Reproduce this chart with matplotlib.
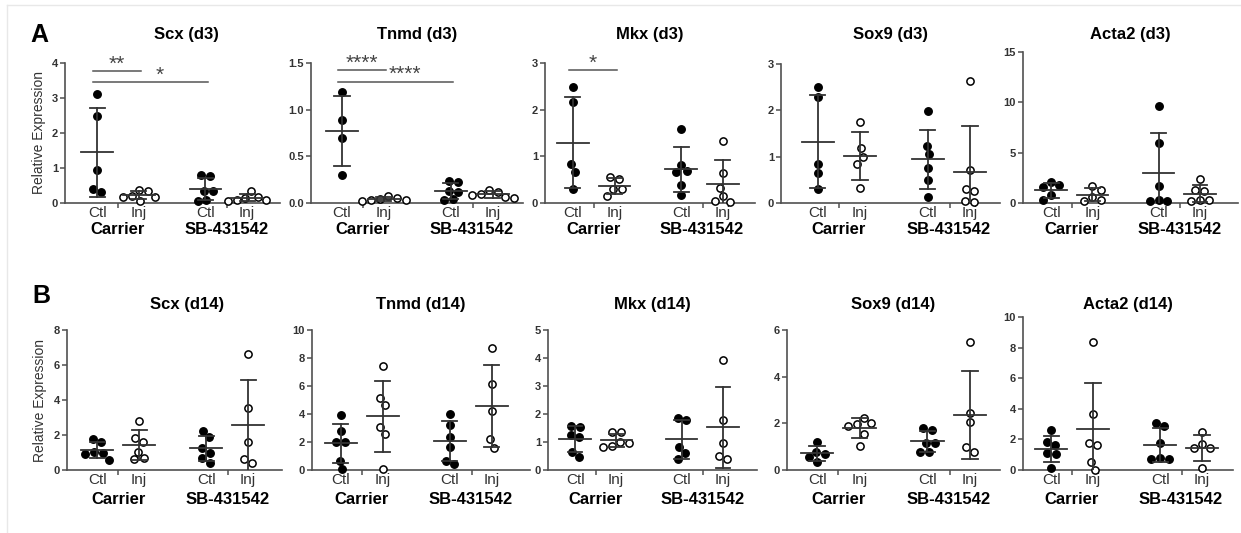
import numpy as np
import matplotlib
matplotlib.use('Agg')
import matplotlib.pyplot as plt
from matplotlib.lines import Line2D

plt.rcParams['font.family'] = ['Liberation Sans', 'DejaVu Sans']

# ---- data ----
groups = ['Ctl', 'Inj', 'Ctl', 'Inj']
treatments = ['Carrier', 'SB-431542']
xpos = [0, 1, 2.6, 3.6]
filled = [True, False, True, False]

# day 3  (Carrier Ctl, Carrier Inj, SB Ctl, SB Inj)
scx_d3 = [[3.11, 2.50, 0.93, 0.41, 0.31], [0.37, 0.33, 0.20, 0.18, 0.17, 0.07],
          [0.79, 0.76, 0.35, 0.33, 0.10, 0.07], [0.34, 0.18, 0.14, 0.10, 0.08, 0.05]]
tnmd_d3 = [[1.19, 0.89, 0.70, 0.30], [0.08, 0.05, 0.04, 0.03, 0.03, 0.02],
           [0.24, 0.22, 0.13, 0.12, 0.04, 0.03], [0.14, 0.12, 0.10, 0.09, 0.06, 0.05]]
mkx_d3 = [[2.49, 2.16, 0.84, 0.66, 0.31], [0.55, 0.52, 0.29, 0.29, 0.16],
          [1.59, 0.82, 0.68, 0.66, 0.39, 0.18], [1.32, 0.64, 0.32, 0.14, 0.04, 0.03]]
sox9_d3 = [[2.50, 2.29, 0.85, 0.64, 0.31], [1.75, 1.18, 0.99, 0.85, 0.33],
           [1.98, 1.24, 1.05, 0.76, 0.49, 0.14], [2.64, 0.71, 0.30, 0.25, 0.04, 0.03]]
acta2_d3 = [[2.06, 1.74, 1.57, 0.75, 0.26], [1.64, 1.31, 0.59, 0.26, 0.20],
            [9.67, 5.93, 1.67, 0.33, 0.20, 0.16], [2.35, 1.30, 1.20, 0.30, 0.25, 0.20]]

# day 14
scx_d14 = [[1.80, 1.60, 1.05, 0.95, 0.90, 0.60], [2.82, 1.81, 1.62, 1.05, 0.67, 0.61],
           [2.25, 1.87, 1.24, 0.99, 0.67, 0.38], [6.61, 3.56, 1.62, 0.61, 0.38]]
tnmd_d14 = [[3.93, 2.79, 1.98, 1.98, 0.67, 0.05], [7.45, 5.17, 4.64, 3.10, 2.57, 0.07],
            [4.00, 3.21, 2.38, 1.62, 0.67, 0.40], [8.74, 6.14, 4.21, 2.19, 1.60]]
mkx_d14 = [[1.58, 1.55, 1.25, 1.19, 0.65, 0.45], [1.35, 1.35, 1.01, 0.95, 0.87, 0.83],
           [1.87, 1.79, 0.83, 0.60, 0.39], [3.93, 1.79, 0.98, 0.51, 0.39]]
sox9_d14 = [[1.21, 0.79, 0.67, 0.55, 0.33], [2.24, 2.00, 1.97, 1.90, 1.54, 1.04],
            [1.81, 1.71, 1.14, 1.14, 0.79, 0.79], [5.47, 2.43, 2.04, 0.97, 0.79]]
acta2_d14 = [[2.61, 1.85, 1.63, 1.09, 1.02, 0.11], [8.37, 3.63, 1.74, 1.63, 0.54, 0.02],
             [3.09, 2.89, 1.78, 0.80, 0.70, 0.70], [2.46, 1.70, 1.46, 1.46, 0.11]]

titles_d3 = ['Scx (d3)', 'Tnmd (d3)', 'Mkx (d3)', 'Sox9 (d3)', 'Acta2 (d3)']
titles_d14 = ['Scx (d14)', 'Tnmd (d14)', 'Mkx (d14)', 'Sox9 (d14)', 'Acta2 (d14)']
ymax_d3 = [4, 1.5, 3, 3, 15]
ystep_d3 = [1, 0.5, 1, 1, 5]
ymax_d14 = [8, 10, 5, 6, 10]
ystep_d14 = [2, 2, 1, 2, 2]

# significance: (panel, from group, to group, height, label)
sig_bars = [(0, 0, 1, 3.77, '**'), (0, 0, 2, 3.46, '*'),
            (1, 0, 1, 1.42, '****'), (1, 0, 2, 1.30, '****'),
            (2, 0, 1, 2.84, '*')]

# ---- layout (pixels of the 1241x533 image) ----
W, H = 1241, 533
left_d3 = [65, 311, 545, 781, 1023]
right_d3 = [280, 523, 755, 1000, 1238]
top_d3 = [63, 63, 63, 64, 52]
bottom_d3 = 203
xlim_d3 = [(-0.77, 4.39), (-0.74, 4.32), (-0.67, 4.37), (-0.87, 4.31), (-0.68, 4.52)]
left_d14 = [67, 312, 548, 787, 1023]
right_d14 = [282, 530, 757, 1000, 1233]
top_d14 = [330, 330, 330, 330, 317]
bottom_d14 = 470
xlim_d14 = [(-0.72, 4.41), (-0.69, 4.51), (-0.66, 4.43), (-0.71, 4.31), (-0.67, 4.34)]

axis_col = '#505050'
bar_col = '#333333'
txt_col = '#333333'
dot_px = 9.0


def swarm(ax, x0, vals):
    # beeswarm in pixel space, then each touching cluster is centred on the group
    pts = ax.transData.transform([(x0, v) for v in vals])
    ys = pts[:, 1]
    order = np.argsort(-ys)
    dx = np.zeros(len(vals))
    placed = []
    last = 1
    for i in order:
        py = ys[i]
        cands = [0.0]
        for j in placed:
            dy = abs(py - ys[j])
            if dy < dot_px:
                h = np.sqrt(dot_px ** 2 - dy ** 2)
                cands += [dx[j] - h, dx[j] + h]
        ok = [c for c in cands
              if all((c - dx[j]) ** 2 + (py - ys[j]) ** 2 >= dot_px ** 2 - 1e-6 for j in placed)]
        ok.sort(key=lambda c: (round(abs(c), 3), -last * c))
        dx[i] = ok[0]
        if dx[i] != 0:
            last = np.sign(dx[i])
        placed.append(i)
    # centre clusters
    srt = np.argsort(ys)
    clusters = [[srt[0]]]
    for a, b in zip(srt[:-1], srt[1:]):
        if ys[b] - ys[a] < dot_px:
            clusters[-1].append(b)
        else:
            clusters.append([b])
    for c in clusters:
        shift = (dx[c].min() + dx[c].max()) / 2
        dx[c] -= shift
    out = np.column_stack([pts[:, 0] + dx, ys])
    return ax.transData.inverted().transform(out)[:, 0]


def draw_panel(rect, data, ymax, ystep, xlim, title, title_x, title_y, grp_off, fmt):
    ax = fig.add_axes(rect)
    ax.set_xlim(*xlim)
    ax.set_ylim(0, ymax)
    for s in ['top', 'right']:
        ax.spines[s].set_visible(False)
    for s in ['left', 'bottom']:
        ax.spines[s].set_color(axis_col)
        ax.spines[s].set_linewidth(1.2)
    yt = np.arange(0, ymax + ystep / 2, ystep)
    ax.set_yticks(yt)
    ax.set_yticklabels([fmt.format(v) for v in yt], fontsize=8, fontweight='bold', color=txt_col)
    ax.tick_params(axis='y', length=3.5, width=1.1, color=axis_col, pad=1.5)
    ax.set_xticks(xpos)
    ax.set_xticklabels(groups, fontsize=11, color=txt_col)
    ax.tick_params(axis='x', which='major', length=0, pad=2)
    ax.set_xticks([0.5, 3.12], minor=True)
    ax.tick_params(axis='x', which='minor', length=3.5, width=1.1, color=axis_col)

    for g, vals in enumerate(data):
        x0 = xpos[g]
        xs = swarm(ax, x0, vals)
        if filled[g]:
            ax.plot(xs, vals, 'o', ms=5.4, mfc='black', mec='black', mew=1.0,
                    clip_on=False, zorder=3)
        else:
            ax.plot(xs, vals, 'o', ms=5.2, mfc='white', mec='black', mew=1.1,
                    clip_on=False, zorder=3)
        m = np.mean(vals)
        sd = np.std(vals, ddof=1)
        ax.plot([x0 - 0.38, x0 + 0.38], [m, m], color=bar_col, lw=1.3, zorder=4)
        ax.plot([x0, x0], [m - sd, m + sd], color=bar_col, lw=1.3, zorder=4)
        for e in (m - sd, m + sd):
            ax.plot([x0 - 0.18, x0 + 0.18], [e, e], color=bar_col, lw=1.3, zorder=4)

    for t, name in enumerate(treatments):
        mid = (xpos[2 * t] + xpos[2 * t + 1]) / 2
        ax.annotate(name, xy=(mid, 0), xycoords=('data', 'axes fraction'),
                    xytext=(0, -grp_off), textcoords='offset pixels',
                    ha='center', va='center', fontsize=12, fontweight='bold', color='black')

    bb = ax.get_position()
    fig.text(bb.x0 + bb.width / 2 + title_x / W, 1 - title_y / H, title,
             ha='center', va='center', fontsize=12, fontweight='bold')
    return ax


fig = plt.figure(figsize=(W / 100, H / 100), dpi=100)

row1 = [scx_d3, tnmd_d3, mkx_d3, sox9_d3, acta2_d3]
row2 = [scx_d14, tnmd_d14, mkx_d14, sox9_d14, acta2_d14]

axes_d3 = []
for i in range(5):
    rect = [left_d3[i] / W, 1 - bottom_d3 / H, (right_d3[i] - left_d3[i]) / W,
            (bottom_d3 - top_d3[i]) / H]
    fmt = '{:.1f}' if i == 1 else '{:.0f}'
    ax = draw_panel(rect, row1[i], ymax_d3[i], ystep_d3[i], xlim_d3[i], titles_d3[i],
                    14 if i == 0 else 0, 34, 26, fmt)
    axes_d3.append(ax)

for i in range(5):
    rect = [left_d14[i] / W, 1 - bottom_d14 / H, (right_d14[i] - left_d14[i]) / W,
            (bottom_d14 - top_d14[i]) / H]
    draw_panel(rect, row2[i], ymax_d14[i], ystep_d14[i], xlim_d14[i], titles_d14[i],
               13 if i == 0 else 0, 304, 30, '{:.0f}')

# significance bars
for p, g1, g2, y, lab in sig_bars:
    ax = axes_d3[p]
    x1 = xpos[g1] - 0.1
    x2 = xpos[g2] + 0.05
    ax.plot([x1, x2], [y, y], color='#555555', lw=1.1, clip_on=False)
    tx = (x1 + x2) / 2 if g2 == 1 else 1.5
    ax.annotate(lab, xy=(tx, y), xytext=(0, 7), textcoords='offset pixels',
                ha='center', va='center', fontsize=15, color='#444444')

# y labels and panel letters
fig.text(39 / W, 1 - 132 / H, 'Relative Expression', rotation=90, ha='center', va='center',
         fontsize=10, color=txt_col)
fig.text(40 / W, 1 - 401 / H, 'Relative Expression', rotation=90, ha='center', va='center',
         fontsize=10, color=txt_col)
fig.text(30 / W, 1 - 35 / H, 'A', ha='left', va='center', fontsize=18, fontweight='bold')
fig.text(32 / W, 1 - 296 / H, 'B', ha='left', va='center', fontsize=18, fontweight='bold')

# faint frame at the top/left edge
fig.add_artist(Line2D([7 / W, 7 / W], [0, 1 - 5 / H], color='#e8e8e8', lw=1))
fig.add_artist(Line2D([7 / W, 1], [1 - 5 / H, 1 - 5 / H], color='#e8e8e8', lw=1))

fig.savefig('out.png', dpi=100)
